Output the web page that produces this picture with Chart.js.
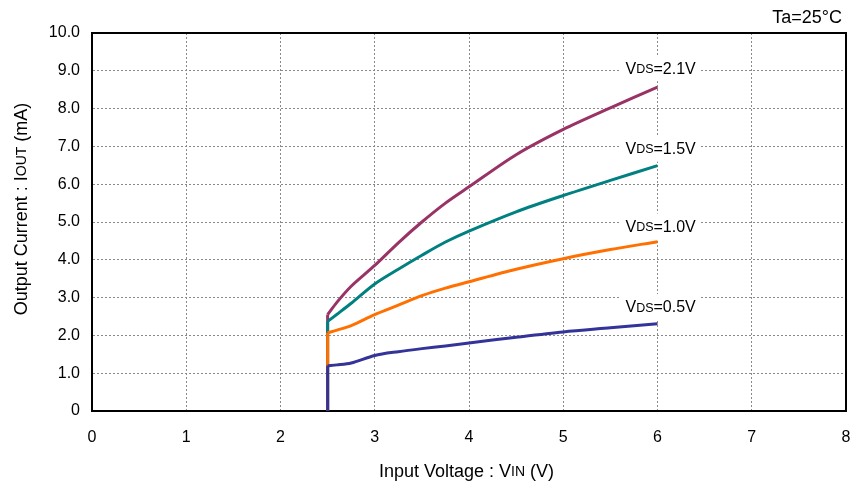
<!DOCTYPE html>
<html>
<head>
<meta charset="utf-8">
<script src="https://cdn.jsdelivr.net/npm/chart.js@4.4.1/dist/chart.umd.min.js"></script>
<style>
  html, body { margin: 0; padding: 0; background: #fff; overflow: hidden; }
  #wrap { width: 853px; height: 486px; }
  canvas { display: block; }
</style>
</head>
<body>
<div id="wrap"><canvas id="chart" width="853" height="486"></canvas></div>
<script>
// Input voltage VIN (V), shared by all four curves (curves start at the 2.5 V step)
const vin = [2.5, 2.6, 2.75, 3, 3.25, 3.5, 3.75, 4, 4.5, 5, 5.5, 6];
const vinStep = 2.5;

// Output current IOUT (mA) for each VDS
const iout21 = [2.55, 2.88, 3.3, 3.85, 4.45, 5.0, 5.5, 5.93, 6.78, 7.45, 8.02, 8.57];
const iout15 = [2.37, 2.56, 2.85, 3.36, 3.75, 4.12, 4.47, 4.76, 5.27, 5.7, 6.1, 6.49];
const iout10 = [2.07, 2.14, 2.26, 2.55, 2.8, 3.05, 3.25, 3.42, 3.75, 4.03, 4.27, 4.48];
const iout05 = [1.2, 1.22, 1.27, 1.47, 1.57, 1.65, 1.72, 1.8, 1.95, 2.09, 2.2, 2.31];

const xTicks = [0, 1, 2, 3, 4, 5, 6, 7, 8];
const yTicks = [0, 1, 2, 3, 4, 5, 6, 7, 8, 9, 10];

// label text + where it sits (data coords of left edge / middle)
const curveLabels = [
    { vds: '2.1V', x: 5.66, y: 9.07 },
    { vds: '1.5V', x: 5.66, y: 6.94 },
    { vds: '1.0V', x: 5.66, y: 4.88 },
    { vds: '0.5V', x: 5.66, y: 2.75 }
];

const FONT = '"Liberation Sans", Arial, sans-serif';

function toPoints(ys) {
    return vin.map((v, i) => ({ x: v, y: ys[i] }));
}

// draws text made of pieces with different font sizes, returns width
function drawParts(ctx, parts, x, y, measureOnly) {
    let w = 0;
    parts.forEach(p => {
        ctx.font = p.size + 'px ' + FONT;
        if (!measureOnly) ctx.fillText(p.t, x + w, y);
        w += ctx.measureText(p.t).width;
    });
    return w;
}

const annotations = {
    id: 'annotations',
    beforeDatasetsDraw(chart) {
        const { ctx, chartArea } = chart;
        ctx.save();
        ctx.strokeStyle = '#000';
        ctx.lineWidth = 2;
        ctx.strokeRect(chartArea.left, chartArea.top, chartArea.right - chartArea.left, chartArea.bottom - chartArea.top);
        ctx.restore();
    },
    afterDatasetsDraw(chart) {
        const { ctx, scales } = chart;
        ctx.save();
        ctx.fillStyle = '#000';
        ctx.textBaseline = 'middle';

        curveLabels.forEach(l => {
            const parts = [{ t: 'V', size: 16 }, { t: 'DS', size: 12.5 }, { t: '=' + l.vds, size: 16 }];
            const px = scales.x.getPixelForValue(l.x);
            const py = scales.y.getPixelForValue(l.y);
            const w = drawParts(ctx, parts, 0, 0, true);
            ctx.fillStyle = '#fff';
            ctx.fillRect(px - 5, py - 13, w + 10, 26);
            ctx.fillStyle = '#000';
            drawParts(ctx, parts, px, py + 1);
        });

        // top right condition
        ctx.font = '18px ' + FONT;
        ctx.textAlign = 'right';
        ctx.fillText('Ta=25°C', 842, 18);
        ctx.textAlign = 'left';

        // x axis title
        const xt = [{ t: 'Input Voltage : V', size: 18 }, { t: 'IN', size: 14 }, { t: ' (V)', size: 18 }];
        const xw = drawParts(ctx, xt, 0, 0, true);
        drawParts(ctx, xt, 466.5 - xw / 2, 472);

        // y axis title (rotated)
        const yt = [{ t: 'Output Current : I', size: 18 }, { t: 'OUT', size: 14 }, { t: ' (mA)', size: 18 }];
        const yw = drawParts(ctx, yt, 0, 0, true);
        ctx.translate(22, 209);
        ctx.rotate(-Math.PI / 2);
        drawParts(ctx, yt, -yw / 2, 0);
        ctx.restore();
    }
};

function lineSet(label, ys, color) {
    return {
        label: label,
        data: toPoints(ys),
        borderColor: color,
        backgroundColor: color,
        borderWidth: 3,
        pointRadius: 0,
        tension: 0.3,
        fill: false
    };
}

// vertical rise at the 2.5 V step, from 0 up to the first point of the curve
function riseSet(label, ys, color) {
    return {
        label: label + ' step',
        data: [{ x: vinStep, y: 0 }, { x: vinStep, y: ys[0] }],
        borderColor: color,
        borderWidth: 3,
        pointRadius: 0,
        tension: 0,
        fill: false
    };
}

new Chart(document.getElementById('chart'), {
    type: 'line',
    data: {
        // first dataset is drawn on top
        datasets: [
            riseSet('VDS=0.5V', iout05, '#333399'),
            lineSet('VDS=0.5V', iout05, '#333399'),
            riseSet('VDS=1.0V', iout10, '#FF7000'),
            lineSet('VDS=1.0V', iout10, '#FF7000'),
            riseSet('VDS=1.5V', iout15, '#008080'),
            lineSet('VDS=1.5V', iout15, '#008080'),
            riseSet('VDS=2.1V', iout21, '#993366'),
            lineSet('VDS=2.1V', iout21, '#993366')
        ]
    },
    options: {
        responsive: false,
        animation: false,
        layout: { autoPadding: false, padding: { top: 33, right: 7, bottom: 0, left: 0 } },
        plugins: {
            legend: { display: false },
            tooltip: { enabled: false }
        },
        scales: {
            x: {
                type: 'linear',
                min: 0,
                max: 8,
                afterFit: s => { s.height = 75; s.paddingLeft = 0; s.paddingRight = 0; },
                afterBuildTicks: s => { s.ticks = xTicks.map(v => ({ value: v })); },
                ticks: {
                    color: '#000',
                    font: { family: FONT, size: 16 },
                    padding: 17,
                    maxRotation: 0
                },
                grid: { color: '#8a8a8a', lineWidth: 1, drawTicks: false },
                border: { display: true, color: '#000', width: 2, dash: [2, 2] }
            },
            y: {
                type: 'linear',
                min: 0,
                max: 10,
                afterFit: s => { s.width = 92; s.paddingTop = 0; s.paddingBottom = 0; },
                afterBuildTicks: s => { s.ticks = yTicks.map(v => ({ value: v })); },
                ticks: {
                    color: '#000',
                    font: { family: FONT, size: 16 },
                    padding: 12,
                    callback: v => v === 0 ? '0' : v.toFixed(1)
                },
                grid: { color: '#8a8a8a', lineWidth: 1, drawTicks: false },
                border: { display: true, color: '#000', width: 2, dash: [2, 2] }
            }
        }
    },
    plugins: [annotations]
});
</script>
</body>
</html>
